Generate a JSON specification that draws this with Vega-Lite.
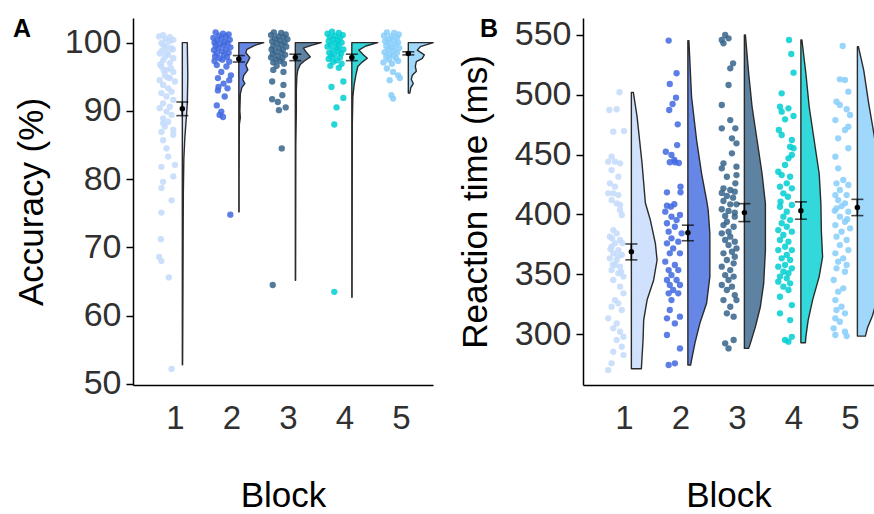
{
"$schema": "https://vega.github.io/schema/vega-lite/v6.json",
"padding": {"left": 13, "top": 16, "right": 0, "bottom": 0},
"background": "white",
"config": {"view": {"stroke": null}, "axis": {"grid": false, "labelFont": "Liberation Sans", "titleFont": "Liberation Sans", "labelColor": "#303030", "titleColor": "#000000", "domainColor": "#000000", "domainWidth": 1.5, "tickColor": "#000000", "tickWidth": 1.5, "titleFontWeight": "normal"}, "title": {"font": "Liberation Sans", "fontSize": 25, "fontWeight": "bold", "anchor": "start", "frame": "group", "color": "#000000"}},
"datasets": {
"ptsA": [
{"b":1,"x":0.79,"y":101.1},{"b":1,"x":0.91,"y":100.8},{"b":1,"x":0.97,"y":100.4},{"b":1,"x":0.76,"y":99.9},{"b":1,"x":0.85,"y":99.4},{"b":1,"x":0.94,"y":99.2},{"b":1,"x":0.73,"y":98.4},{"b":1,"x":0.88,"y":98.2},{"b":1,"x":0.97,"y":97.7},{"b":1,"x":0.79,"y":97.4},{"b":1,"x":0.91,"y":97},{"b":1,"x":0.76,"y":96.5},{"b":1,"x":0.85,"y":96},{"b":1,"x":0.97,"y":95.7},{"b":1,"x":0.82,"y":95.2},{"b":1,"x":0.91,"y":94.8},{"b":1,"x":0.73,"y":94.5},{"b":1,"x":1.0,"y":94.3},{"b":1,"x":0.79,"y":93.8},{"b":1,"x":0.88,"y":93.3},{"b":1,"x":0.94,"y":92.8},{"b":1,"x":0.76,"y":92.6},{"b":1,"x":0.85,"y":92.1},{"b":1,"x":0.97,"y":91.6},{"b":1,"x":0.79,"y":91.1},{"b":1,"x":0.91,"y":90.6},{"b":1,"x":0.73,"y":90.4},{"b":1,"x":0.85,"y":89.9},{"b":1,"x":0.94,"y":89.4},{"b":1,"x":0.79,"y":88.9},{"b":1,"x":0.88,"y":88.4},{"b":1,"x":0.82,"y":87.7},{"b":1,"x":0.97,"y":87.2},{"b":1,"x":0.76,"y":86.9},{"b":1,"x":0.72,"y":100.9},{"b":1,"x":0.83,"y":100.5},{"b":1,"x":0.9,"y":100.2},{"b":1,"x":0.8,"y":99.6},{"b":1,"x":0.96,"y":99},{"b":1,"x":0.77,"y":98.8},{"b":1,"x":0.86,"y":98.6},{"b":1,"x":0.82,"y":97.9},{"b":1,"x":0.74,"y":96.8},{"b":1,"x":0.93,"y":96.2},{"b":1,"x":0.8,"y":95.9},{"b":1,"x":0.87,"y":94.9},{"b":1,"x":0.79,"y":88.2},{"b":1,"x":0.97,"y":86.5},{"b":1,"x":0.79,"y":85.7},{"b":1,"x":0.85,"y":84.5},{"b":1,"x":0.88,"y":83.3},{"b":1,"x":0.76,"y":81.8},{"b":1,"x":1.0,"y":82.1},{"b":1,"x":0.97,"y":80.4},{"b":1,"x":0.79,"y":79.6},{"b":1,"x":0.76,"y":78.7},{"b":1,"x":0.94,"y":76.9},{"b":1,"x":0.76,"y":75.1},{"b":1,"x":0.75,"y":71.2},{"b":1,"x":0.72,"y":68.6},{"b":1,"x":0.76,"y":68.0},{"b":1,"x":0.89,"y":65.6},{"b":1,"x":0.94,"y":52.2},
{"b":2,"x":1.72,"y":101.5},{"b":2,"x":1.85,"y":101.3},{"b":2,"x":1.95,"y":101.2},{"b":2,"x":1.78,"y":101},{"b":2,"x":1.9,"y":100.9},{"b":2,"x":1.68,"y":100.7},{"b":2,"x":1.82,"y":100.6},{"b":2,"x":1.97,"y":100.4},{"b":2,"x":1.74,"y":100.3},{"b":2,"x":1.88,"y":100.1},{"b":2,"x":1.7,"y":100},{"b":2,"x":1.93,"y":99.9},{"b":2,"x":1.8,"y":99.8},{"b":2,"x":1.86,"y":99.6},{"b":2,"x":1.72,"y":99.5},{"b":2,"x":1.98,"y":99.3},{"b":2,"x":1.77,"y":99.2},{"b":2,"x":1.9,"y":99},{"b":2,"x":1.69,"y":98.9},{"b":2,"x":1.83,"y":98.7},{"b":2,"x":1.95,"y":98.5},{"b":2,"x":1.74,"y":98.4},{"b":2,"x":1.87,"y":98.2},{"b":2,"x":1.71,"y":98},{"b":2,"x":1.92,"y":97.9},{"b":2,"x":1.79,"y":97.7},{"b":2,"x":1.84,"y":97.5},{"b":2,"x":1.7,"y":97.3},{"b":2,"x":1.96,"y":97.2},{"b":2,"x":1.74,"y":96.7},{"b":2,"x":1.91,"y":96.5},{"b":2,"x":1.82,"y":95.7},{"b":2,"x":1.99,"y":95.2},{"b":2,"x":1.76,"y":94.8},{"b":2,"x":1.96,"y":94.5},{"b":2,"x":1.86,"y":94},{"b":2,"x":1.77,"y":93.5},{"b":2,"x":1.93,"y":93.3},{"b":2,"x":1.76,"y":93},{"b":2,"x":1.88,"y":92.1},{"b":2,"x":1.74,"y":90.8},{"b":2,"x":1.82,"y":89.9},{"b":2,"x":1.79,"y":89.4},{"b":2,"x":1.85,"y":89.1},{"b":2,"x":1.98,"y":74.8},
{"b":3,"x":2.75,"y":101.5},{"b":3,"x":2.88,"y":101.4},{"b":3,"x":2.96,"y":101.2},{"b":3,"x":2.7,"y":101.1},{"b":3,"x":2.83,"y":100.9},{"b":3,"x":2.92,"y":100.8},{"b":3,"x":2.77,"y":100.6},{"b":3,"x":2.99,"y":100.5},{"b":3,"x":2.86,"y":100.3},{"b":3,"x":2.72,"y":100.2},{"b":3,"x":2.94,"y":100},{"b":3,"x":2.8,"y":99.9},{"b":3,"x":2.89,"y":99.7},{"b":3,"x":2.74,"y":99.5},{"b":3,"x":2.97,"y":99.4},{"b":3,"x":2.84,"y":99.2},{"b":3,"x":2.71,"y":99},{"b":3,"x":2.91,"y":98.9},{"b":3,"x":2.78,"y":98.7},{"b":3,"x":2.88,"y":98.5},{"b":3,"x":2.73,"y":98.3},{"b":3,"x":2.95,"y":98.2},{"b":3,"x":2.82,"y":98},{"b":3,"x":2.7,"y":97.8},{"b":3,"x":2.9,"y":97.7},{"b":3,"x":2.79,"y":97.5},{"b":3,"x":2.86,"y":97.3},{"b":3,"x":2.74,"y":97.1},{"b":3,"x":2.93,"y":96.9},{"b":3,"x":2.8,"y":96.6},{"b":3,"x":2.74,"y":96},{"b":3,"x":2.92,"y":95.7},{"b":3,"x":2.72,"y":94.3},{"b":3,"x":2.92,"y":93.8},{"b":3,"x":2.9,"y":92.3},{"b":3,"x":2.72,"y":91.7},{"b":3,"x":2.82,"y":91.3},{"b":3,"x":2.96,"y":90.5},{"b":3,"x":2.84,"y":90.1},{"b":3,"x":2.89,"y":84.5},{"b":3,"x":2.73,"y":64.5},
{"b":4,"x":3.78,"y":101.6},{"b":4,"x":3.9,"y":101.4},{"b":4,"x":3.7,"y":101.3},{"b":4,"x":3.97,"y":101.1},{"b":4,"x":3.83,"y":101},{"b":4,"x":3.74,"y":100.8},{"b":4,"x":3.92,"y":100.7},{"b":4,"x":3.8,"y":100.5},{"b":4,"x":3.88,"y":100.3},{"b":4,"x":3.72,"y":100.2},{"b":4,"x":3.95,"y":100},{"b":4,"x":3.84,"y":99.9},{"b":4,"x":3.76,"y":99.7},{"b":4,"x":3.9,"y":99.5},{"b":4,"x":3.7,"y":99.4},{"b":4,"x":3.86,"y":99.2},{"b":4,"x":3.98,"y":99},{"b":4,"x":3.79,"y":98.9},{"b":4,"x":3.89,"y":98.7},{"b":4,"x":3.73,"y":98.5},{"b":4,"x":3.94,"y":98.4},{"b":4,"x":3.82,"y":98.2},{"b":4,"x":3.77,"y":98},{"b":4,"x":3.92,"y":97.8},{"b":4,"x":3.72,"y":97.6},{"b":4,"x":3.86,"y":97.4},{"b":4,"x":3.8,"y":97.2},{"b":4,"x":3.95,"y":96.9},{"b":4,"x":3.75,"y":96.6},{"b":4,"x":3.9,"y":96.3},{"b":4,"x":3.98,"y":94.3},{"b":4,"x":3.77,"y":93.5},{"b":4,"x":3.98,"y":91.9},{"b":4,"x":3.86,"y":90.5},{"b":4,"x":3.82,"y":88.0},{"b":4,"x":3.82,"y":63.5},
{"b":5,"x":4.75,"y":101.5},{"b":5,"x":4.88,"y":101.4},{"b":5,"x":4.96,"y":101.2},{"b":5,"x":4.7,"y":101},{"b":5,"x":4.83,"y":100.9},{"b":5,"x":4.93,"y":100.7},{"b":5,"x":4.77,"y":100.5},{"b":5,"x":4.86,"y":100.4},{"b":5,"x":4.72,"y":100.2},{"b":5,"x":4.95,"y":100},{"b":5,"x":4.8,"y":99.9},{"b":5,"x":4.9,"y":99.7},{"b":5,"x":4.74,"y":99.5},{"b":5,"x":4.84,"y":99.3},{"b":5,"x":4.97,"y":99.2},{"b":5,"x":4.78,"y":99},{"b":5,"x":4.88,"y":98.8},{"b":5,"x":4.71,"y":98.6},{"b":5,"x":4.93,"y":98.5},{"b":5,"x":4.8,"y":98.3},{"b":5,"x":4.86,"y":98.1},{"b":5,"x":4.74,"y":97.9},{"b":5,"x":4.91,"y":97.7},{"b":5,"x":4.79,"y":97.5},{"b":5,"x":4.95,"y":97.3},{"b":5,"x":4.69,"y":97.1},{"b":5,"x":4.84,"y":96.9},{"b":5,"x":4.75,"y":96.2},{"b":5,"x":4.86,"y":95.7},{"b":5,"x":4.95,"y":95.2},{"b":5,"x":4.8,"y":94.5},{"b":5,"x":4.98,"y":94.8},{"b":5,"x":4.83,"y":92.3},{"b":5,"x":4.86,"y":91.8}
],
"vioA": [
{"b":1,"y":100,"x":1.218,"x0":1.13},{"b":1,"y":95,"x":1.227,"x0":1.13},{"b":1,"y":91,"x":1.218,"x0":1.13},{"b":1,"y":88,"x":1.192,"x0":1.13},{"b":1,"y":86,"x":1.174,"x0":1.13},{"b":1,"y":83,"x":1.157,"x0":1.13},{"b":1,"y":78,"x":1.148,"x0":1.13},{"b":1,"y":70,"x":1.144,"x0":1.13},{"b":1,"y":60,"x":1.139,"x0":1.13},{"b":1,"y":52.8,"x":1.135,"x0":1.13},
{"b":2,"y":100,"x":2.572,"x0":2.13},{"b":2,"y":99.6,"x":2.413,"x0":2.13},{"b":2,"y":99.0,"x":2.272,"x0":2.13},{"b":2,"y":98.5,"x":2.254,"x0":2.13},{"b":2,"y":97.8,"x":2.325,"x0":2.13},{"b":2,"y":97.2,"x":2.289,"x0":2.13},{"b":2,"y":96.7,"x":2.254,"x0":2.13},{"b":2,"y":96.0,"x":2.289,"x0":2.13},{"b":2,"y":95.2,"x":2.218,"x0":2.13},{"b":2,"y":94.6,"x":2.201,"x0":2.13},{"b":2,"y":94.0,"x":2.236,"x0":2.13},{"b":2,"y":93.4,"x":2.183,"x0":2.13},{"b":2,"y":92.5,"x":2.157,"x0":2.13},{"b":2,"y":90,"x":2.148,"x0":2.13},{"b":2,"y":89,"x":2.157,"x0":2.13},{"b":2,"y":88,"x":2.139,"x0":2.13},{"b":2,"y":80,"x":2.135,"x0":2.13},{"b":2,"y":75.2,"x":2.135,"x0":2.13},
{"b":3,"y":100,"x":3.59,"x0":3.13},{"b":3,"y":99.6,"x":3.413,"x0":3.13},{"b":3,"y":99.2,"x":3.272,"x0":3.13},{"b":3,"y":98.6,"x":3.325,"x0":3.13},{"b":3,"y":97.9,"x":3.395,"x0":3.13},{"b":3,"y":97.3,"x":3.289,"x0":3.13},{"b":3,"y":96.8,"x":3.218,"x0":3.13},{"b":3,"y":96,"x":3.174,"x0":3.13},{"b":3,"y":95,"x":3.157,"x0":3.13},{"b":3,"y":93,"x":3.148,"x0":3.13},{"b":3,"y":90,"x":3.148,"x0":3.13},{"b":3,"y":85,"x":3.139,"x0":3.13},{"b":3,"y":65.2,"x":3.135,"x0":3.13},
{"b":4,"y":100,"x":4.59,"x0":4.13},{"b":4,"y":99.5,"x":4.378,"x0":4.13},{"b":4,"y":98.9,"x":4.254,"x0":4.13},{"b":4,"y":98.3,"x":4.325,"x0":4.13},{"b":4,"y":97.7,"x":4.404,"x0":4.13},{"b":4,"y":97.1,"x":4.307,"x0":4.13},{"b":4,"y":96.5,"x":4.236,"x0":4.13},{"b":4,"y":95.2,"x":4.201,"x0":4.13},{"b":4,"y":93.8,"x":4.171,"x0":4.13},{"b":4,"y":92,"x":4.148,"x0":4.13},{"b":4,"y":88,"x":4.139,"x0":4.13},{"b":4,"y":62.7,"x":4.135,"x0":4.13},
{"b":5,"y":100,"x":5.572,"x0":5.13},{"b":5,"y":99.4,"x":5.342,"x0":5.13},{"b":5,"y":98.9,"x":5.289,"x0":5.13},{"b":5,"y":98.2,"x":5.413,"x0":5.13},{"b":5,"y":97.7,"x":5.378,"x0":5.13},{"b":5,"y":97.2,"x":5.272,"x0":5.13},{"b":5,"y":96.5,"x":5.254,"x0":5.13},{"b":5,"y":95.8,"x":5.272,"x0":5.13},{"b":5,"y":95.2,"x":5.201,"x0":5.13},{"b":5,"y":94.6,"x":5.183,"x0":5.13},{"b":5,"y":94.0,"x":5.218,"x0":5.13},{"b":5,"y":93.4,"x":5.174,"x0":5.13},{"b":5,"y":92.6,"x":5.157,"x0":5.13}
],
"errA": [
{"b":1,"x":1.13,"m":90.3,"lo":89.3,"hi":91.3},{"b":2,"x":2.13,"m":97.6,"lo":97.15,"hi":98.1},{"b":3,"x":3.13,"m":97.8,"lo":97.35,"hi":98.3},{"b":4,"x":4.13,"m":97.8,"lo":97.35,"hi":98.3},{"b":5,"x":5.13,"m":98.4,"lo":98.2,"hi":98.65}
],
"ptsB": [
{"b":1,"x":0.92,"y":502.1},{"b":1,"x":0.74,"y":487.3},{"b":1,"x":0.87,"y":487.9},{"b":1,"x":0.81,"y":469.2},{"b":1,"x":1.0,"y":469.7},{"b":1,"x":0.78,"y":448.3},{"b":1,"x":0.72,"y":444.1},{"b":1,"x":0.84,"y":444.1},{"b":1,"x":0.93,"y":442.7},{"b":1,"x":0.78,"y":437.1},{"b":1,"x":0.9,"y":431.5},{"b":1,"x":0.75,"y":426},{"b":1,"x":0.84,"y":423.2},{"b":1,"x":0.72,"y":417.6},{"b":1,"x":0.81,"y":417.6},{"b":1,"x":0.9,"y":416.2},{"b":1,"x":0.78,"y":412},{"b":1,"x":0.87,"y":409.3},{"b":1,"x":0.93,"y":407.9},{"b":1,"x":0.93,"y":403.7},{"b":1,"x":0.96,"y":399.5},{"b":1,"x":0.81,"y":386.9},{"b":1,"x":0.87,"y":384.2},{"b":1,"x":0.75,"y":381.4},{"b":1,"x":0.93,"y":378.6},{"b":1,"x":0.84,"y":375.8},{"b":1,"x":0.78,"y":373},{"b":1,"x":0.9,"y":370.2},{"b":1,"x":0.81,"y":367.5},{"b":1,"x":0.96,"y":366.1},{"b":1,"x":0.75,"y":363.3},{"b":1,"x":0.87,"y":361.9},{"b":1,"x":0.84,"y":357.7},{"b":1,"x":0.93,"y":356.3},{"b":1,"x":0.78,"y":353.5},{"b":1,"x":0.9,"y":350.8},{"b":1,"x":0.99,"y":348},{"b":1,"x":0.81,"y":345.2},{"b":1,"x":0.93,"y":339.6},{"b":1,"x":0.99,"y":334},{"b":1,"x":0.84,"y":328.4},{"b":1,"x":0.9,"y":325.7},{"b":1,"x":0.78,"y":322.8},{"b":1,"x":0.96,"y":320.1},{"b":1,"x":0.72,"y":313.1},{"b":1,"x":0.87,"y":308.9},{"b":1,"x":0.81,"y":304.8},{"b":1,"x":0.93,"y":301.9},{"b":1,"x":0.99,"y":297.7},{"b":1,"x":0.87,"y":295},{"b":1,"x":0.96,"y":289.4},{"b":1,"x":0.81,"y":285.2},{"b":1,"x":0.99,"y":282.4},{"b":1,"x":0.78,"y":275.5},{"b":1,"x":0.72,"y":269.9},{"b":1,"x":0.76,"y":371},{"b":1,"x":0.89,"y":365},{"b":1,"x":0.8,"y":358},{"b":1,"x":0.95,"y":352},{"b":1,"x":0.97,"y":376},{"b":1,"x":0.79,"y":380},
{"b":2,"x":1.79,"y":545.3},{"b":2,"x":1.93,"y":518},{"b":2,"x":1.81,"y":509},{"b":2,"x":1.92,"y":497.6},{"b":2,"x":1.86,"y":492.3},{"b":2,"x":1.8,"y":487.3},{"b":2,"x":1.95,"y":475.3},{"b":2,"x":1.94,"y":458},{"b":2,"x":1.74,"y":452.4},{"b":2,"x":1.84,"y":449.7},{"b":2,"x":1.89,"y":445.5},{"b":2,"x":1.81,"y":443.6},{"b":2,"x":1.9,"y":443.6},{"b":2,"x":1.97,"y":443},{"b":2,"x":2.0,"y":423.2},{"b":2,"x":1.76,"y":418.5},{"b":2,"x":2.0,"y":418.5},{"b":2,"x":1.76,"y":407.3},{"b":2,"x":1.89,"y":408.5},{"b":2,"x":1.83,"y":406.5},{"b":2,"x":1.99,"y":399.5},{"b":2,"x":1.73,"y":402.3},{"b":2,"x":1.84,"y":398.1},{"b":2,"x":1.93,"y":395.3},{"b":2,"x":1.76,"y":392.6},{"b":2,"x":1.9,"y":389.7},{"b":2,"x":1.79,"y":385.6},{"b":2,"x":2.02,"y":384.2},{"b":2,"x":1.84,"y":380},{"b":2,"x":1.76,"y":375.8},{"b":2,"x":1.96,"y":377.2},{"b":2,"x":1.87,"y":371.6},{"b":2,"x":1.99,"y":367.5},{"b":2,"x":1.81,"y":367.5},{"b":2,"x":1.73,"y":360.5},{"b":2,"x":1.9,"y":357.7},{"b":2,"x":1.79,"y":353.5},{"b":2,"x":1.96,"y":353.5},{"b":2,"x":1.84,"y":349.3},{"b":2,"x":1.76,"y":345.2},{"b":2,"x":1.93,"y":345.2},{"b":2,"x":1.81,"y":341},{"b":2,"x":1.99,"y":341},{"b":2,"x":1.87,"y":336.8},{"b":2,"x":1.79,"y":334},{"b":2,"x":1.96,"y":334},{"b":2,"x":1.84,"y":328.4},{"b":2,"x":1.81,"y":320.1},{"b":2,"x":1.76,"y":313.1},{"b":2,"x":1.99,"y":314.5},{"b":2,"x":1.9,"y":308.9},{"b":2,"x":1.76,"y":299.2},{"b":2,"x":1.99,"y":288},{"b":2,"x":1.79,"y":274.1},{"b":2,"x":1.9,"y":275.5},
{"b":3,"x":2.79,"y":550},{"b":3,"x":2.73,"y":545.8},{"b":3,"x":2.85,"y":547.2},{"b":3,"x":2.76,"y":543},{"b":3,"x":2.93,"y":526.3},{"b":3,"x":2.88,"y":522.1},{"b":3,"x":2.85,"y":508.2},{"b":3,"x":2.73,"y":491.5},{"b":3,"x":2.88,"y":478.9},{"b":3,"x":2.73,"y":472},{"b":3,"x":2.97,"y":472},{"b":3,"x":2.91,"y":463.6},{"b":3,"x":2.99,"y":459.4},{"b":3,"x":2.91,"y":451.1},{"b":3,"x":2.76,"y":442.7},{"b":3,"x":2.99,"y":439.9},{"b":3,"x":2.73,"y":438.5},{"b":3,"x":2.99,"y":432.9},{"b":3,"x":2.82,"y":431.5},{"b":3,"x":2.97,"y":426},{"b":3,"x":2.76,"y":421.8},{"b":3,"x":2.88,"y":420.4},{"b":3,"x":2.73,"y":418},{"b":3,"x":2.96,"y":419},{"b":3,"x":2.82,"y":415.5},{"b":3,"x":2.93,"y":414},{"b":3,"x":2.76,"y":411.2},{"b":3,"x":2.88,"y":408.4},{"b":3,"x":2.99,"y":408.4},{"b":3,"x":2.73,"y":404.3},{"b":3,"x":2.85,"y":402.9},{"b":3,"x":2.96,"y":401.5},{"b":3,"x":2.79,"y":398.7},{"b":3,"x":2.96,"y":398.1},{"b":3,"x":2.82,"y":393.9},{"b":3,"x":2.76,"y":391.1},{"b":3,"x":2.94,"y":389.7},{"b":3,"x":2.85,"y":385.6},{"b":3,"x":2.73,"y":384.2},{"b":3,"x":2.88,"y":381.4},{"b":3,"x":2.79,"y":378.6},{"b":3,"x":2.96,"y":377.2},{"b":3,"x":2.85,"y":374.4},{"b":3,"x":2.99,"y":371.6},{"b":3,"x":2.91,"y":368.8},{"b":3,"x":2.76,"y":367.5},{"b":3,"x":2.96,"y":364.6},{"b":3,"x":2.82,"y":361.9},{"b":3,"x":2.94,"y":359.1},{"b":3,"x":2.73,"y":356.3},{"b":3,"x":2.88,"y":353.5},{"b":3,"x":2.79,"y":349.3},{"b":3,"x":2.94,"y":348},{"b":3,"x":2.85,"y":345.2},{"b":3,"x":2.73,"y":341},{"b":3,"x":2.91,"y":339.6},{"b":3,"x":2.82,"y":336.8},{"b":3,"x":2.96,"y":332.6},{"b":3,"x":2.99,"y":328.4},{"b":3,"x":2.76,"y":328.4},{"b":3,"x":2.88,"y":322.8},{"b":3,"x":2.82,"y":317.3},{"b":3,"x":2.94,"y":314.5},{"b":3,"x":2.94,"y":295},{"b":3,"x":2.79,"y":292.2},{"b":3,"x":2.85,"y":288},
{"b":4,"x":3.92,"y":545.8},{"b":4,"x":3.96,"y":534.1},{"b":4,"x":4.0,"y":518.5},{"b":4,"x":3.79,"y":501.2},{"b":4,"x":3.76,"y":490.1},{"b":4,"x":3.91,"y":488.7},{"b":4,"x":3.79,"y":485.9},{"b":4,"x":3.85,"y":479.5},{"b":4,"x":4.0,"y":482.3},{"b":4,"x":3.74,"y":470.6},{"b":4,"x":3.79,"y":466.4},{"b":4,"x":3.97,"y":462.2},{"b":4,"x":3.94,"y":456.6},{"b":4,"x":4.0,"y":455.3},{"b":4,"x":3.97,"y":449.7},{"b":4,"x":3.91,"y":446.9},{"b":4,"x":3.85,"y":441.3},{"b":4,"x":3.73,"y":435.7},{"b":4,"x":3.79,"y":432.9},{"b":4,"x":3.94,"y":431.5},{"b":4,"x":3.88,"y":426},{"b":4,"x":3.76,"y":423.2},{"b":4,"x":3.97,"y":421.8},{"b":4,"x":3.82,"y":417.6},{"b":4,"x":3.9,"y":414.8},{"b":4,"x":3.77,"y":410.6},{"b":4,"x":3.97,"y":407.9},{"b":4,"x":3.76,"y":406.4},{"b":4,"x":3.88,"y":402.3},{"b":4,"x":3.82,"y":398.1},{"b":4,"x":3.94,"y":395.3},{"b":4,"x":3.79,"y":392.6},{"b":4,"x":3.88,"y":389.7},{"b":4,"x":3.73,"y":386.9},{"b":4,"x":3.97,"y":385.6},{"b":4,"x":3.82,"y":382.8},{"b":4,"x":3.76,"y":378.6},{"b":4,"x":3.91,"y":377.2},{"b":4,"x":3.85,"y":373},{"b":4,"x":3.97,"y":370.2},{"b":4,"x":3.73,"y":370.2},{"b":4,"x":3.88,"y":366.1},{"b":4,"x":3.79,"y":363.3},{"b":4,"x":3.94,"y":361.9},{"b":4,"x":3.85,"y":357.7},{"b":4,"x":3.73,"y":356.3},{"b":4,"x":3.97,"y":354.9},{"b":4,"x":3.82,"y":352.1},{"b":4,"x":3.91,"y":350.8},{"b":4,"x":3.76,"y":348},{"b":4,"x":3.88,"y":346.6},{"b":4,"x":3.73,"y":343.8},{"b":4,"x":3.94,"y":342.4},{"b":4,"x":3.82,"y":339.6},{"b":4,"x":3.91,"y":336.8},{"b":4,"x":3.76,"y":331.2},{"b":4,"x":3.97,"y":324.2},{"b":4,"x":3.76,"y":317.3},{"b":4,"x":3.94,"y":311.7},{"b":4,"x":3.97,"y":297.7},{"b":4,"x":3.85,"y":295},{"b":4,"x":3.91,"y":293.6},
{"b":5,"x":4.87,"y":540.8},{"b":5,"x":4.82,"y":512.9},{"b":5,"x":4.91,"y":512.4},{"b":5,"x":4.97,"y":502.6},{"b":5,"x":4.76,"y":494.2},{"b":5,"x":4.82,"y":491.5},{"b":5,"x":4.94,"y":487.9},{"b":5,"x":5.0,"y":483.1},{"b":5,"x":4.74,"y":478.9},{"b":5,"x":4.97,"y":473.3},{"b":5,"x":4.91,"y":470.6},{"b":5,"x":4.79,"y":463.6},{"b":5,"x":4.97,"y":455.3},{"b":5,"x":4.74,"y":448.3},{"b":5,"x":4.79,"y":438.5},{"b":5,"x":4.88,"y":428.8},{"b":5,"x":4.76,"y":426},{"b":5,"x":4.97,"y":424.6},{"b":5,"x":4.82,"y":420.4},{"b":5,"x":4.74,"y":416.2},{"b":5,"x":4.94,"y":416.2},{"b":5,"x":4.79,"y":412},{"b":5,"x":4.91,"y":409.3},{"b":5,"x":4.76,"y":405.1},{"b":5,"x":4.97,"y":402.3},{"b":5,"x":4.82,"y":398.1},{"b":5,"x":4.91,"y":393.9},{"b":5,"x":4.74,"y":391.1},{"b":5,"x":5.0,"y":388.4},{"b":5,"x":4.85,"y":385.6},{"b":5,"x":4.76,"y":381.4},{"b":5,"x":4.94,"y":378.6},{"b":5,"x":4.82,"y":374.4},{"b":5,"x":4.97,"y":370.2},{"b":5,"x":4.74,"y":367.5},{"b":5,"x":4.88,"y":363.3},{"b":5,"x":4.79,"y":360.5},{"b":5,"x":4.94,"y":357.7},{"b":5,"x":4.76,"y":354.9},{"b":5,"x":4.91,"y":352.1},{"b":5,"x":4.71,"y":345.2},{"b":5,"x":4.88,"y":338.2},{"b":5,"x":4.79,"y":335.4},{"b":5,"x":4.74,"y":328.4},{"b":5,"x":4.85,"y":322.8},{"b":5,"x":4.76,"y":320.1},{"b":5,"x":4.91,"y":317.3},{"b":5,"x":4.74,"y":313.1},{"b":5,"x":4.82,"y":310.3},{"b":5,"x":4.71,"y":304.8},{"b":5,"x":4.91,"y":301.9},{"b":5,"x":4.74,"y":299.2},{"b":5,"x":4.94,"y":298.3},{"b":5,"x":4.85,"y":407},{"b":5,"x":4.73,"y":403},{"b":5,"x":4.95,"y":396}
],
"vioB": [
{"b":1,"y":502,"x":1.165,"x0":1.13},{"b":1,"y":481.7,"x":1.231,"x0":1.13},{"b":1,"y":442.7,"x":1.319,"x0":1.13},{"b":1,"y":409.5,"x":1.378,"x0":1.13},{"b":1,"y":395.3,"x":1.466,"x0":1.13},{"b":1,"y":375.8,"x":1.555,"x0":1.13},{"b":1,"y":361.9,"x":1.585,"x0":1.13},{"b":1,"y":345.2,"x":1.525,"x0":1.13},{"b":1,"y":328.4,"x":1.408,"x0":1.13},{"b":1,"y":311.7,"x":1.348,"x0":1.13},{"b":1,"y":295,"x":1.337,"x0":1.13},{"b":1,"y":281,"x":1.319,"x0":1.13},{"b":1,"y":271,"x":1.307,"x0":1.13},
{"b":2,"y":545.3,"x":2.148,"x0":2.13},{"b":2,"y":498.4,"x":2.195,"x0":2.13},{"b":2,"y":462.2,"x":2.284,"x0":2.13},{"b":2,"y":434.4,"x":2.372,"x0":2.13},{"b":2,"y":412,"x":2.461,"x0":2.13},{"b":2,"y":403.7,"x":2.489,"x0":2.13},{"b":2,"y":384.2,"x":2.519,"x0":2.13},{"b":2,"y":348,"x":2.519,"x0":2.13},{"b":2,"y":325.7,"x":2.461,"x0":2.13},{"b":2,"y":308.9,"x":2.342,"x0":2.13},{"b":2,"y":292.2,"x":2.254,"x0":2.13},{"b":2,"y":278.3,"x":2.195,"x0":2.13},{"b":2,"y":274.1,"x":2.178,"x0":2.13},
{"b":3,"y":550,"x":3.148,"x0":3.13},{"b":3,"y":518,"x":3.206,"x0":3.13},{"b":3,"y":490,"x":3.266,"x0":3.13},{"b":3,"y":462,"x":3.355,"x0":3.13},{"b":3,"y":434,"x":3.443,"x0":3.13},{"b":3,"y":409,"x":3.502,"x0":3.13},{"b":3,"y":398,"x":3.502,"x0":3.13},{"b":3,"y":370,"x":3.502,"x0":3.13},{"b":3,"y":342.4,"x":3.472,"x0":3.13},{"b":3,"y":322.8,"x":3.413,"x0":3.13},{"b":3,"y":306,"x":3.325,"x0":3.13},{"b":3,"y":292.2,"x":3.236,"x0":3.13},{"b":3,"y":288,"x":3.206,"x0":3.13},
{"b":4,"y":545.8,"x":4.148,"x0":4.13},{"b":4,"y":518,"x":4.218,"x0":4.13},{"b":4,"y":490,"x":4.277,"x0":4.13},{"b":4,"y":462,"x":4.365,"x0":4.13},{"b":4,"y":434,"x":4.454,"x0":4.13},{"b":4,"y":409,"x":4.484,"x0":4.13},{"b":4,"y":385,"x":4.493,"x0":4.13},{"b":4,"y":364.6,"x":4.514,"x0":4.13},{"b":4,"y":348,"x":4.454,"x0":4.13},{"b":4,"y":328.4,"x":4.337,"x0":4.13},{"b":4,"y":311.7,"x":4.259,"x0":4.13},{"b":4,"y":297.7,"x":4.218,"x0":4.13},{"b":4,"y":292.7,"x":4.21,"x0":4.13},
{"b":5,"y":540.2,"x":5.148,"x0":5.13},{"b":5,"y":520.7,"x":5.242,"x0":5.13},{"b":5,"y":492.9,"x":5.33,"x0":5.13},{"b":5,"y":470,"x":5.413,"x0":5.13},{"b":5,"y":440,"x":5.519,"x0":5.13},{"b":5,"y":410,"x":5.59,"x0":5.13},{"b":5,"y":380,"x":5.608,"x0":5.13},{"b":5,"y":350,"x":5.555,"x0":5.13},{"b":5,"y":330,"x":5.484,"x0":5.13},{"b":5,"y":315,"x":5.395,"x0":5.13},{"b":5,"y":305,"x":5.307,"x0":5.13},{"b":5,"y":298.3,"x":5.272,"x0":5.13}
],
"errB": [
{"b":1,"x":1.13,"m":368.8,"lo":362,"hi":375.3},{"b":2,"x":2.13,"m":384.6,"lo":378,"hi":391},{"b":3,"x":3.13,"m":401.5,"lo":394,"hi":409},{"b":4,"x":4.13,"m":403,"lo":396,"hi":410.5},{"b":5,"x":5.13,"m":405.7,"lo":399,"hi":412.6}
]
},
"hconcat": [
{
"width": 300, "height": 367,
"title": {"text": "A", "dx": -120, "dy": 28},
"layer": [
{"data": {"name": "ptsA"}, "mark": {"type": "circle", "size": 40, "opacity": 0.85},
 "encoding": {
  "x": {"field": "x", "type": "quantitative", "scale": {"domain": [0.257, 5.567], "nice": false, "zero": false},
        "axis": {"values": [1,2,3,4,5], "format": "d", "ticks": false, "labelFontSize": 33, "labelPadding": 17, "title": "Block", "titleFontSize": 35, "titlePadding": 43}},
  "y": {"field": "y", "type": "quantitative", "scale": {"domain": [49.85, 103.6], "nice": false, "zero": false},
        "axis": {"values": [50,60,70,80,90,100], "tickSize": 7, "labelFontSize": 34, "labelPadding": 5, "title": "Accuracy (%)", "titleFontSize": 35, "titlePadding": 15}},
  "color": {"field": "b", "type": "nominal", "scale": {"domain": [1,2,3,4,5], "range": ["#c3dafb", "#4169e1", "#36648b", "#00ced1", "#87cefa"]}, "legend": null}
 }},
{"data": {"name": "vioA"}, "mark": {"type": "area", "orient": "horizontal", "fillOpacity": 0.8, "stroke": "#2b2b2b", "strokeWidth": 1.4, "strokeJoin": "round"},
 "encoding": {
  "y": {"field": "y", "type": "quantitative"},
  "x": {"field": "x", "type": "quantitative"},
  "x2": {"field": "x0"},
  "color": {"field": "b", "type": "nominal", "legend": null}
 }},
{"data": {"name": "errA"}, "mark": {"type": "rule", "color": "#000000", "strokeWidth": 1.6},
 "encoding": {"x": {"field": "x", "type": "quantitative"}, "y": {"field": "lo", "type": "quantitative"}, "y2": {"field": "hi"}}},
{"data": {"name": "errA"}, "mark": {"type": "tick", "orient": "horizontal", "color": "#000000", "size": 12, "thickness": 1.6},
 "encoding": {"x": {"field": "x", "type": "quantitative"}, "y": {"field": "lo", "type": "quantitative"}}},
{"data": {"name": "errA"}, "mark": {"type": "tick", "orient": "horizontal", "color": "#000000", "size": 12, "thickness": 1.6},
 "encoding": {"x": {"field": "x", "type": "quantitative"}, "y": {"field": "hi", "type": "quantitative"}}},
{"data": {"name": "errA"}, "mark": {"type": "circle", "size": 30, "color": "#000000", "opacity": 1},
 "encoding": {"x": {"field": "x", "type": "quantitative"}, "y": {"field": "m", "type": "quantitative"}}}
]
},
{
"width": 291, "height": 367,
"title": {"text": "B", "dx": -103, "dy": 28},
"layer": [
{"data": {"name": "ptsB"}, "mark": {"type": "circle", "size": 40, "opacity": 0.85, "clip": true},
 "encoding": {
  "x": {"field": "x", "type": "quantitative", "scale": {"domain": [0.274, 5.424], "nice": false, "zero": false},
        "axis": {"values": [1,2,3,4,5], "format": "d", "ticks": false, "labelFontSize": 33, "labelPadding": 17, "title": "Block", "titleFontSize": 35, "titlePadding": 43}},
  "y": {"field": "y", "type": "quantitative", "scale": {"domain": [257.4, 564.2], "nice": false, "zero": false},
        "axis": {"values": [300,350,400,450,500,550], "tickSize": 7, "labelFontSize": 34, "labelPadding": 5, "title": "Reaction time (ms)", "titleFontSize": 35, "titlePadding": 21}},
  "color": {"field": "b", "type": "nominal", "scale": {"domain": [1,2,3,4,5], "range": ["#c3dafb", "#4169e1", "#36648b", "#00ced1", "#87cefa"]}, "legend": null}
 }},
{"data": {"name": "vioB"}, "mark": {"type": "area", "orient": "horizontal", "fillOpacity": 0.8, "stroke": "#2b2b2b", "strokeWidth": 1.4, "strokeJoin": "round", "clip": true},
 "encoding": {
  "y": {"field": "y", "type": "quantitative"},
  "x": {"field": "x", "type": "quantitative"},
  "x2": {"field": "x0"},
  "color": {"field": "b", "type": "nominal", "legend": null}
 }},
{"data": {"name": "errB"}, "mark": {"type": "rule", "color": "#000000", "strokeWidth": 1.6},
 "encoding": {"x": {"field": "x", "type": "quantitative"}, "y": {"field": "lo", "type": "quantitative"}, "y2": {"field": "hi"}}},
{"data": {"name": "errB"}, "mark": {"type": "tick", "orient": "horizontal", "color": "#000000", "size": 12, "thickness": 1.6},
 "encoding": {"x": {"field": "x", "type": "quantitative"}, "y": {"field": "lo", "type": "quantitative"}}},
{"data": {"name": "errB"}, "mark": {"type": "tick", "orient": "horizontal", "color": "#000000", "size": 12, "thickness": 1.6},
 "encoding": {"x": {"field": "x", "type": "quantitative"}, "y": {"field": "hi", "type": "quantitative"}}},
{"data": {"name": "errB"}, "mark": {"type": "circle", "size": 30, "color": "#000000", "opacity": 1},
 "encoding": {"x": {"field": "x", "type": "quantitative"}, "y": {"field": "m", "type": "quantitative"}}}
]
}
],
"spacing": 150,
"bounds": "flush"
}
